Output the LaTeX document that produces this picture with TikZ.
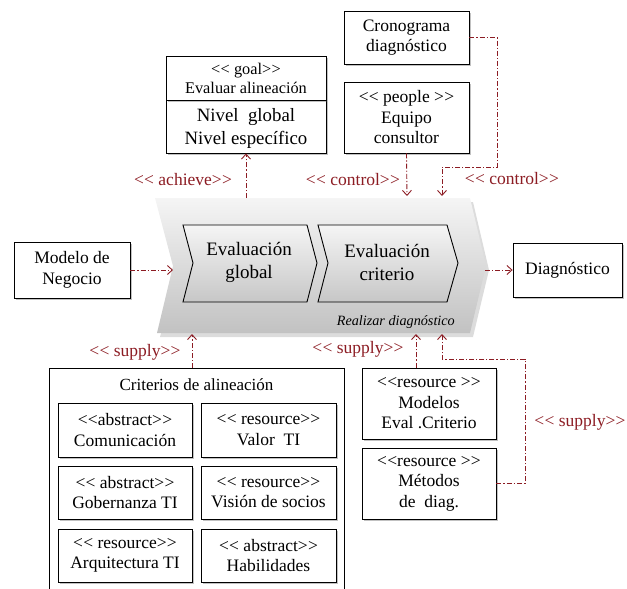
\documentclass[tikz,border=0pt]{standalone}
\usepackage{fontspec}
\setmainfont{Liberation Serif}
\usetikzlibrary{arrows.meta,shadows}
\newcommand\ltlt{<\kern0.3pt<}
\newcommand\gtgt{>\kern0.3pt>}
\definecolor{crimsonline}{RGB}{140,28,35}
\begin{document}
\begin{tikzpicture}[x=1pt,y=-1pt,
  box/.style={draw=black, line width=0.9pt, fill=white, align=center,
    font=\fontsize{17.5}{20.5}\selectfont, inner sep=0pt,
    drop shadow={shadow xshift=1.5pt, shadow yshift=-1.8pt, opacity=0.35, fill=black!70}},
  chev/.style={draw=black, line width=0.9pt, top color=white!96!black, bottom color=black!22},
  chevtext/.style={align=center, font=\fontsize{19}{23}\selectfont},
  dashconn/.style={draw=crimsonline, line width=0.9pt,
    dash pattern=on 5pt off 2pt on 1.2pt off 2pt,
    -{Straight Barb[length=5pt,width=9pt,line width=0.9pt]}},
  lbl/.style={text=crimsonline, font=\fontsize{17.5}{20}\selectfont, inner sep=0pt}]
\useasboundingbox (0,0) rectangle (627,589);

% big chevron (process)
\fill[black!30, opacity=0.45] (158,202) -- (473,202) -- (489,270) -- (473,337) -- (160,337) -- (178,270) -- cycle;
\shade[top color=black!4, bottom color=black!24] (155,198) -- (470,198) -- (486,266) -- (470,333) -- (157,333) -- (173,266) -- cycle;
\coordinate (pL) at (173,270);
\coordinate (pR) at (485,270);

% inner chevrons
\path[chev] (183,225) -- (307,225) -- (317,263) -- (307,302) -- (183,302) -- (193,263) -- cycle;
\path[chev] (318,225) -- (447,225) -- (458,263) -- (447,302) -- (318,302) -- (328,263) -- cycle;
\node[chevtext] (eg) at (249,262) {Evaluación\\global};
\node[chevtext] (ec) at (387,262) {Evaluación\\criterio};
\node[font=\fontsize{14.2}{17}\selectfont\itshape, anchor=east, inner sep=0pt] (rd) at (455,322) {Realizar diagnóstico};

% boxes
\node[box, minimum width=116pt, minimum height=56pt] (modelo) at (72,270) {Modelo de\\Negocio};
\node[box, minimum width=109pt, minimum height=54pt] (diag) at (567.5,270) {Diagnóstico};
\node[box, minimum width=160pt, minimum height=53pt] (goalb) at (246,126.5) {};
\node[font=\fontsize{18.8}{22.5}\selectfont, align=center, inner sep=0pt] (goalbt) at (246,128.5) {Nivel\ \ global\\Nivel específico};
\node[box, minimum width=160pt, minimum height=44pt, font=\fontsize{16.3}{19}\selectfont] (goalt) at (246,78) {\ltlt{} goal\gtgt\\Evaluar alineación};
\node[box, minimum width=125pt, minimum height=53pt] (crono) at (406.5,37.5) {Cronograma\\diagnóstico};
\node[box, minimum width=125pt, minimum height=71pt] (equipo) at (406.5,117.5) {\ltlt{} people \gtgt\\Equipo\\consultor};
\node[box, minimum width=134pt, minimum height=71pt] (modelos) at (429,403.5) {\ltlt{}resource \gtgt\\Modelos\\Eval .Criterio};
\node[box, minimum width=134pt, minimum height=71pt] (metodos) at (429,483.5) {\ltlt{}resource \gtgt\\Métodos\\de\ \ diag.};

% criterios container (open at the bottom)
\draw[line width=0.9pt] (49,590) -- (49,368) -- (344,368) -- (344,590);
\node[font=\fontsize{17}{20}\selectfont] (crit) at (196.5,385) {Criterios de alineación};
\coordinate (critTop) at (192,368);
\node[box, minimum width=134pt, minimum height=54pt] (c1) at (125,430) {\ltlt{}abstract\gtgt\\Comunicación};
\node[box, minimum width=135pt, minimum height=54pt] (c2) at (268.5,430) {\ltlt{} resource\gtgt\\Valor\ \ TI};
\node[box, minimum width=134pt, minimum height=53pt] (c3) at (125,492.5) {\ltlt{} abstract\gtgt\\Gobernanza TI};
\node[box, minimum width=135pt, minimum height=53pt] (c4) at (268.5,492.5) {\ltlt{} resource\gtgt\\Visión de socios};
\node[box, minimum width=134pt, minimum height=53pt] (c5) at (125,555.5) {\ltlt{} resource\gtgt\\Arquitectura TI};
\node[box, minimum width=135pt, minimum height=53pt] (c6) at (268.5,555.5) {\ltlt{} abstract\gtgt\\Habilidades};

% connector end points on the process shape
\coordinate (pTopA) at (246,198);
\coordinate (pTopB) at (407,196);
\coordinate (pTopC) at (442,196);
\coordinate (pBotA) at (192,334);
\coordinate (pBotB) at (416,334);
\coordinate (pBotC) at (442,334);

% connectors
\draw[dashconn] (modelo.east) -- (pL);
\draw[dashconn] (pR) -- (diag.west);
\draw[dashconn] (pTopA) -- (goalb.south);
\draw[dashconn] (equipo.south) -- (pTopB);
\draw[dashconn] (crono.east) -- (497,37.5) -- (497,167) -- (442,167) -- (pTopC);
\draw[dashconn] (critTop) -- (pBotA);
\draw[dashconn] ([xshift=-13pt]modelos.north) -- (pBotB);
\draw[dashconn] (metodos.east) -- (525,483.5) -- (525,359) -- (442,359) -- (pBotC);

% labels
\node[lbl] (l1) at (183,180) {\ltlt{} achieve\gtgt};
\node[lbl] (l2) at (353,180) {\ltlt{} control\gtgt};
\node[lbl] (l3) at (512,179) {\ltlt{} control\gtgt};
\node[lbl] (l4) at (135,352) {\ltlt{} supply\gtgt};
\node[lbl] (l5) at (358,349) {\ltlt{} supply\gtgt};
\node[lbl] (l6) at (580,422) {\ltlt{} supply\gtgt};
\end{tikzpicture}
\end{document}
